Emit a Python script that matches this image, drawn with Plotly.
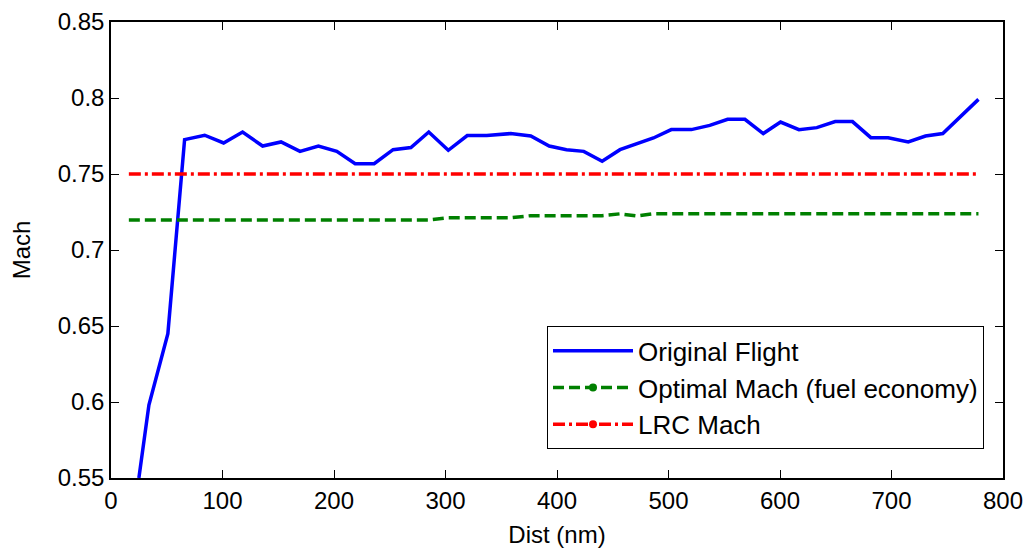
import plotly.graph_objects as go

# Original flight
dist_orig = [25, 34, 51, 66, 84, 101, 118, 136, 152.5, 169.5, 186, 202.5, 219, 236, 253, 269,
             285, 302.5, 319.5, 337, 358.5, 376.5, 393, 408.5, 424, 440.5, 456.5, 471.5, 486.5,
             502.5, 520.5, 537, 553, 568.5, 585, 600.5, 617, 633, 649.5, 665, 681.5, 697, 715,
             730.5, 746, 778]
mach_orig = [0.55, 0.598, 0.645, 0.7726, 0.7755, 0.7704, 0.7776, 0.7684, 0.7711, 0.7649, 0.7684,
             0.7649, 0.7568, 0.7568, 0.7660, 0.7674, 0.7776, 0.7656, 0.7753, 0.7753, 0.7766,
             0.7750, 0.7684, 0.7660, 0.7649, 0.7584, 0.7660, 0.7700, 0.7737, 0.7792, 0.7792,
             0.7820, 0.7860, 0.7860, 0.7766, 0.7842, 0.7792, 0.7805, 0.7845, 0.7845, 0.7739,
             0.7739, 0.7711, 0.7750, 0.7766, 0.7991]

# Optimal Mach (fuel economy)
dist_opt = [16, 285, 302.5, 358.5, 376.5, 440.5, 456.5, 471.5, 486.5, 778]
mach_opt = [0.7198, 0.7198, 0.7212, 0.7212, 0.7226, 0.7226, 0.7238, 0.7224, 0.7238, 0.7238]

# LRC Mach
dist_lrc = [16, 778]
mach_lrc = [0.75, 0.75]

x_ticks = [0, 100, 200, 300, 400, 500, 600, 700, 800]
y_ticks = [0.55, 0.6, 0.65, 0.7, 0.75, 0.8, 0.85]
y_tick_text = ["0.55", "0.6", "0.65", "0.7", "0.75", "0.8", "0.85"]

FONT = "Liberation Sans, Arial, sans-serif"
BLUE, GREEN, RED = "#0000FF", "#008000", "#FF0000"
LRC_DASH = "12px,4px,3px,4px"
OPT_DASH = "11px,5px"

fig = go.Figure()
fig.add_trace(go.Scatter(x=dist_orig, y=mach_orig, mode="lines", name="Original Flight",
                         line=dict(color=BLUE, width=3.5), showlegend=True))
fig.add_trace(go.Scatter(x=dist_opt, y=mach_opt, mode="lines", showlegend=False,
                         line=dict(color=GREEN, width=3.5, dash=OPT_DASH)))
fig.add_trace(go.Scatter(x=dist_lrc, y=mach_lrc, mode="lines", showlegend=False,
                         line=dict(color=RED, width=3.5, dash=LRC_DASH)))
# legend entries with marker in the middle
fig.add_trace(go.Scatter(x=[None], y=[None], mode="lines+markers", name="Optimal Mach (fuel economy)",
                         line=dict(color=GREEN, width=3.5, dash=OPT_DASH),
                         marker=dict(color=GREEN, size=8, symbol="circle")))
fig.add_trace(go.Scatter(x=[None], y=[None], mode="lines+markers", name="LRC Mach",
                         line=dict(color=RED, width=3.5, dash=LRC_DASH),
                         marker=dict(color=RED, size=8, symbol="circle")))

axis_common = dict(showgrid=False, zeroline=False, showline=True, linecolor="black", linewidth=1.5,
                   mirror="ticks", ticks="inside", ticklen=8, tickcolor="black", tickwidth=1,
                   tickfont=dict(family=FONT, size=24, color="black"))

fig.update_xaxes(range=[0, 800], tickvals=x_ticks, ticktext=[str(v) for v in x_ticks],
                 title=dict(text="Dist (nm)", font=dict(family=FONT, size=24, color="black"), standoff=14),
                 **axis_common)
fig.update_yaxes(range=[0.55, 0.85], tickvals=y_ticks, ticktext=y_tick_text,
                 title=dict(text="Mach", font=dict(family=FONT, size=24, color="black"), standoff=20),
                 **axis_common)

fig.update_layout(
    width=1029, height=548,
    margin=dict(l=111, r=26, t=22, b=70, autoexpand=False),
    paper_bgcolor="white", plot_bgcolor="white",
    font=dict(family=FONT, size=24, color="black"),
    legend=dict(x=0.9787, y=0.063, xanchor="right", yanchor="bottom",
                bgcolor="white", bordercolor="black", borderwidth=1,
                font=dict(family=FONT, size=26, color="black"),
                itemwidth=80, tracegroupgap=0),
)

fig.write_html("out.html")
